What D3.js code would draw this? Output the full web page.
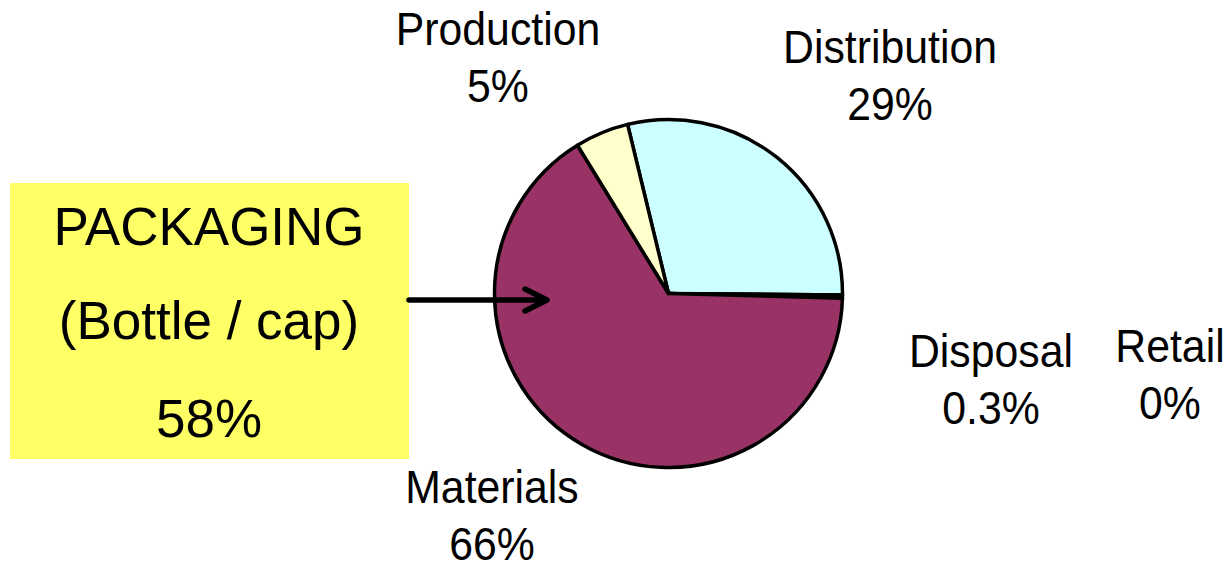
<!DOCTYPE html>
<html>
<head>
<meta charset="utf-8">
<script src="https://cdn.jsdelivr.net/npm/d3@7"></script>
<style>
  body { margin: 0; background: #fff; }
  text { font-family: "Liberation Sans", Arial, sans-serif; fill: #000; }
</style>
</head>
<body>
<div id="chart"></div>
<script>
// slices, clockwise from the top-left edge of Distribution
var categories = ['Distribution', 'Disposal', 'Retail', 'Materials', 'Production'];
var values = [29, 0.3, 0, 66, 5];
var valueLabels = ['29%', '0.3%', '0%', '66%', '5%'];
var colors = ['#CCFFFF', '#CCFFFF', '#CCFFFF', '#993366', '#FFFFCC'];

var calloutLines = ['PACKAGING', '(Bottle / cap)', '58%'];

var W = 1228, H = 568;
var cx = 668.5, cy = 293.5, R = 174;
var START = -13.6 * Math.PI / 180;

var svg = d3.select('#chart').append('svg')
    .attr('width', W)
    .attr('height', H);

var pie = d3.pie()
    .sort(null)
    .value(function(d) { return d; })
    .startAngle(START)
    .endAngle(START + 2 * Math.PI);

var arc = d3.arc().innerRadius(0).outerRadius(R);

var arcs = pie(values);

var g = svg.append('g').attr('transform', 'translate(' + cx + ',' + cy + ')');

g.selectAll('path.slice')
    .data(arcs)
    .enter().append('path')
    .attr('class', 'slice')
    .attr('d', arc)
    .attr('fill', function(d, i) { return colors[i]; })
    .attr('stroke', '#000')
    .attr('stroke-width', 3.5)
    .attr('stroke-linejoin', 'round');

// label anchors (center x, first baseline) - placed like the slide
var labelPos = {
    Distribution: [890, 63],
    Disposal: [991, 367],
    Retail: [1170, 362],
    Materials: [492, 503],
    Production: [498, 45]
};

var labels = svg.append('g');
categories.forEach(function(c, i) {
    var p = labelPos[c];
    var t = labels.append('text')
        .attr('x', p[0])
        .attr('y', p[1])
        .attr('text-anchor', 'middle')
        .attr('font-size', 46)
        .attr('transform', 'translate(' + p[0] + ',0) scale(0.93,1) translate(' + (-p[0]) + ',0)');
    t.append('tspan').attr('x', p[0]).text(c);
    t.append('tspan').attr('x', p[0]).attr('dy', 57).text(valueLabels[i]);
});

// yellow call-out box
var box = svg.append('g');
box.append('rect')
    .attr('x', 10).attr('y', 183)
    .attr('width', 399).attr('height', 276)
    .attr('fill', '#FFFF66');

var boxY = [245, 339, 437];
calloutLines.forEach(function(s, i) {
    box.append('text')
        .attr('x', 209)
        .attr('y', boxY[i])
        .attr('text-anchor', 'middle')
        .attr('font-size', 53)
        .text(s);
});

// arrow into the Materials slice
var arrow = svg.append('g')
    .attr('stroke', '#000')
    .attr('stroke-width', 5.5)
    .attr('stroke-linecap', 'round')
    .attr('stroke-linejoin', 'round')
    .attr('fill', 'none');
arrow.append('line')
    .attr('x1', 409).attr('y1', 300)
    .attr('x2', 546).attr('y2', 300);
arrow.append('path')
    .attr('d', 'M525,289 L547,300 L525,311');
</script>
</body>
</html>
